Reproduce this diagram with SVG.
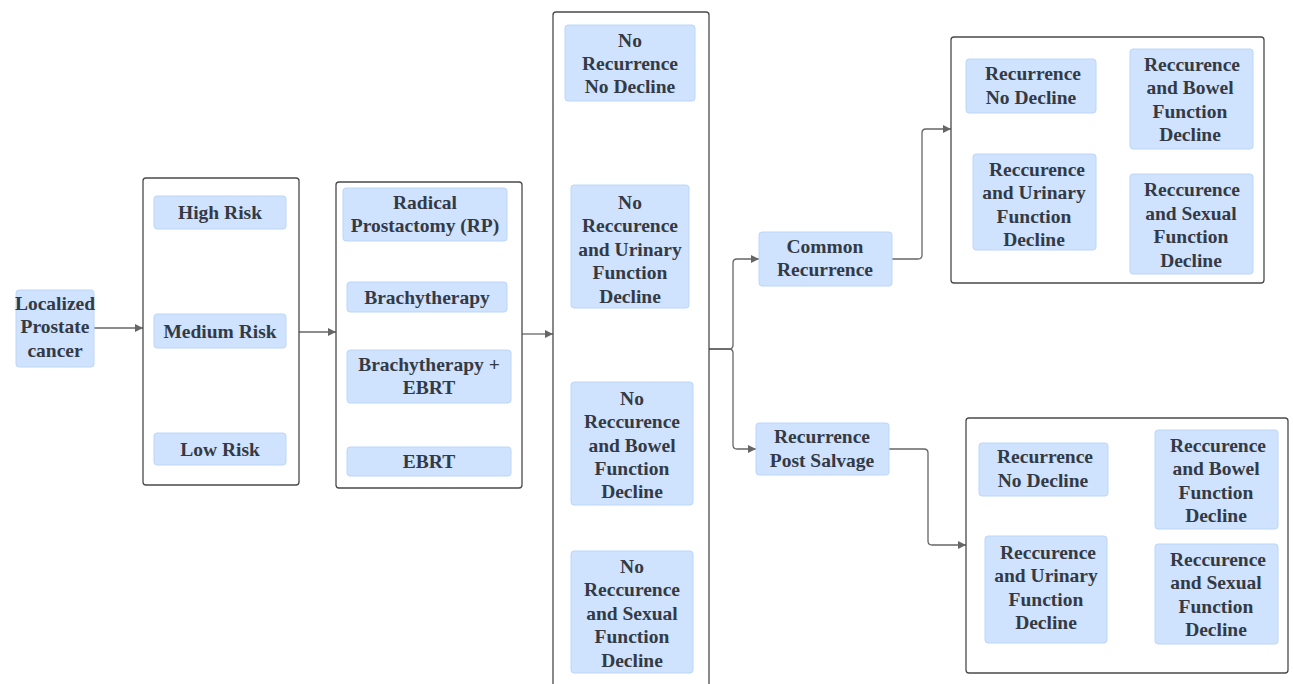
<svg xmlns="http://www.w3.org/2000/svg" width="1293" height="684" viewBox="0 0 1293 684">
<defs>
<style>
.grp{fill:#ffffff;stroke:#4a4a4a;stroke-width:1.3}
.box{fill:#cfe2fe;stroke:#bcd6f8;stroke-width:1}
.t{font-family:"Liberation Serif","Times New Roman",serif;font-weight:bold;font-size:19.5px;fill:#333a45;text-anchor:middle}
.c{fill:none;stroke:#666666;stroke-width:1.3}
</style>
<marker id="ah" viewBox="0 0 10 10" refX="10" refY="5" markerWidth="8" markerHeight="8" markerUnits="userSpaceOnUse" orient="auto">
<path d="M0,0 L10,5 L0,10 z" fill="#666666"/>
</marker>
</defs>
<rect width="1293" height="684" fill="#ffffff"/>

<g id="connectors">
<path class="c" d="M94,328 H143" marker-end="url(#ah)"/>
<path class="c" d="M299,332 H336" marker-end="url(#ah)"/>
<path class="c" d="M522,334 H553" marker-end="url(#ah)"/>
<path class="c" d="M709,349 H729 Q733,349 733,345 V263 Q733,259 737,259 H759" marker-end="url(#ah)"/>
<path class="c" d="M709,349 H729 Q733,349 733,353 V445 Q733,449 737,449 H756" marker-end="url(#ah)"/>
<path class="c" d="M892,259 H918 Q922,259 922,255 V133 Q922,129 926,129 H951" marker-end="url(#ah)"/>
<path class="c" d="M889,449 H924 Q928,449 928,453 V541 Q928,545 932,545 H966" marker-end="url(#ah)"/>
</g>

<g id="localized">
<rect class="box" x="16" y="290" width="78" height="77" rx="3"/>
<text class="t" x="55" y="309.5">Localized</text>
<text class="t" x="55" y="332.5">Prostate</text>
<text class="t" x="55" y="356.5">cancer</text>
</g>

<g id="risk-group">
<rect class="grp" x="143" y="178" width="156" height="307" rx="3"/>
<g id="high-risk"><rect class="box" x="154" y="196" width="132" height="33" rx="3"/><text class="t" x="220" y="218.5">High Risk</text></g>
<g id="medium-risk"><rect class="box" x="154" y="314" width="132" height="34" rx="3"/><text class="t" x="220" y="337.5">Medium Risk</text></g>
<g id="low-risk"><rect class="box" x="154" y="433" width="132" height="32" rx="3"/><text class="t" x="220" y="455.5">Low Risk</text></g>
</g>

<g id="treatment-group">
<rect class="grp" x="336" y="182" width="186" height="306" rx="3"/>
<g id="rp"><rect class="box" x="343" y="188" width="164" height="53" rx="3"/><text class="t" x="425" y="208.5">Radical</text><text class="t" x="425" y="231.5">Prostactomy (RP)</text></g>
<g id="brachy"><rect class="box" x="347" y="282" width="160" height="30" rx="3"/><text class="t" x="427" y="303.5">Brachytherapy</text></g>
<g id="brachy-ebrt"><rect class="box" x="347" y="350" width="164" height="53" rx="3"/><text class="t" x="429" y="370.5">Brachytherapy +</text><text class="t" x="429" y="393.5">EBRT</text></g>
<g id="ebrt"><rect class="box" x="347" y="447" width="164" height="29" rx="3"/><text class="t" x="429" y="467.5">EBRT</text></g>
</g>

<g id="outcome-group">
<rect class="grp" x="553" y="12" width="156" height="690" rx="3"/>
<g id="no-rec-no-decline"><rect class="box" x="565" y="25" width="130" height="76" rx="3"/><text class="t" x="630" y="46.5">No</text><text class="t" x="630" y="69.5">Recurrence</text><text class="t" x="630" y="92.5">No Decline</text></g>
<g id="no-rec-urinary"><rect class="box" x="571" y="185" width="118" height="123" rx="3"/><text class="t" x="630" y="208.5">No</text><text class="t" x="630" y="231.5">Reccurence</text><text class="t" x="630" y="255.5">and Urinary</text><text class="t" x="630" y="278.5">Function</text><text class="t" x="630" y="302.5">Decline</text></g>
<g id="no-rec-bowel"><rect class="box" x="571" y="382" width="122" height="123" rx="3"/><text class="t" x="632" y="404.5">No</text><text class="t" x="632" y="427.5">Reccurence</text><text class="t" x="632" y="451.5">and Bowel</text><text class="t" x="632" y="474.5">Function</text><text class="t" x="632" y="497.5">Decline</text></g>
<g id="no-rec-sexual"><rect class="box" x="571" y="551" width="122" height="122" rx="3"/><text class="t" x="632" y="572.5">No</text><text class="t" x="632" y="595.5">Reccurence</text><text class="t" x="632" y="619.5">and Sexual</text><text class="t" x="632" y="642.5">Function</text><text class="t" x="632" y="666.5">Decline</text></g>
</g>

<g id="common-recurrence">
<rect class="box" x="759" y="232" width="133" height="54" rx="3"/>
<text class="t" x="825" y="252.5">Common</text><text class="t" x="825" y="275.5">Recurrence</text>
</g>

<g id="recurrence-post-salvage">
<rect class="box" x="756" y="423" width="133" height="52" rx="3"/>
<text class="t" x="822" y="442.5">Recurrence</text><text class="t" x="822" y="466.5">Post Salvage</text>
</g>

<g id="common-outcomes">
<rect class="grp" x="951" y="37" width="313" height="246" rx="3"/>
<g id="cr-no-decline"><rect class="box" x="966" y="59" width="130" height="54" rx="3"/><text class="t" x="1033" y="79.5">Recurrence</text><text class="t" x="1031" y="103.5">No Decline</text></g>
<g id="cr-bowel"><rect class="box" x="1130" y="49" width="123" height="100" rx="3"/><text class="t" x="1192" y="70.5">Reccurence</text><text class="t" x="1190" y="93.5">and Bowel</text><text class="t" x="1190" y="117.5">Function</text><text class="t" x="1190" y="140.5">Decline</text></g>
<g id="cr-urinary"><rect class="box" x="973" y="154" width="123" height="96" rx="3"/><text class="t" x="1037" y="175.5">Reccurence</text><text class="t" x="1034" y="198.5">and Urinary</text><text class="t" x="1034" y="222.5">Function</text><text class="t" x="1034" y="245.5">Decline</text></g>
<g id="cr-sexual"><rect class="box" x="1130" y="174" width="123" height="100" rx="3"/><text class="t" x="1192" y="195.5">Reccurence</text><text class="t" x="1191" y="219.5">and Sexual</text><text class="t" x="1191" y="242.5">Function</text><text class="t" x="1191" y="266.5">Decline</text></g>
</g>

<g id="salvage-outcomes">
<rect class="grp" x="966" y="418" width="322" height="255" rx="3"/>
<g id="ps-no-decline"><rect class="box" x="979" y="443" width="129" height="53" rx="3"/><text class="t" x="1045" y="462.5">Recurrence</text><text class="t" x="1043" y="486.5">No Decline</text></g>
<g id="ps-bowel"><rect class="box" x="1155" y="430" width="123" height="99" rx="3"/><text class="t" x="1218" y="451.5">Reccurence</text><text class="t" x="1216" y="474.5">and Bowel</text><text class="t" x="1216" y="498.5">Function</text><text class="t" x="1216" y="521.5">Decline</text></g>
<g id="ps-urinary"><rect class="box" x="985" y="536" width="122" height="107" rx="3"/><text class="t" x="1048" y="558.5">Reccurence</text><text class="t" x="1046" y="581.5">and Urinary</text><text class="t" x="1046" y="605.5">Function</text><text class="t" x="1046" y="628.5">Decline</text></g>
<g id="ps-sexual"><rect class="box" x="1155" y="544" width="123" height="100" rx="3"/><text class="t" x="1218" y="565.5">Reccurence</text><text class="t" x="1216" y="588.5">and Sexual</text><text class="t" x="1216" y="612.5">Function</text><text class="t" x="1216" y="635.5">Decline</text></g>
</g>
</svg>
